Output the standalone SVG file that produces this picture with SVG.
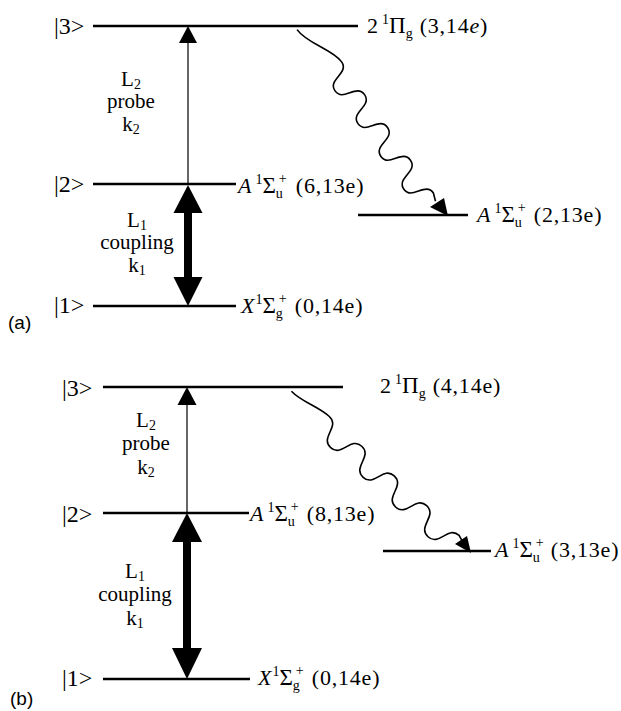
<svg xmlns="http://www.w3.org/2000/svg" width="621" height="711" viewBox="0 0 621 711">
  <style>
    .lvl { stroke: #000; stroke-width: 2.4; fill: none; }
    .thin { stroke: #000; stroke-width: 1.2; fill: none; }
    .shaft { stroke: #000; stroke-width: 8; fill: none; }
    .wave { stroke: #000; stroke-width: 1.6; fill: none; stroke-linejoin: round; }
    .head { fill: #000; stroke: none; }
    text { font-family: "Liberation Serif", "Times New Roman", serif; fill: #000; }
    .ket { font-size: 24px; }
    .lab { font-size: 22px; }
    .big { font-size: 23px; }
    .par { letter-spacing: 0.8px; }
    .mid { font-size: 21px; text-anchor: middle; }
    .sm { font-size: 14px; letter-spacing: 0; }
    .tag { font-family: "Liberation Sans", Arial, sans-serif; font-size: 19px; }
  </style>

  <!-- ===== Panel (a) ===== -->
  <g id="a-level3">
    <line class="lvl" x1="93" y1="26" x2="358" y2="26"/>
    <text class="ket" x="54" y="34">|3&gt;</text>
    <text class="lab" x="367" y="33">2<tspan class="sm" dx="4" dy="-9">1</tspan><tspan class="big" dy="9">Π</tspan><tspan class="sm" dy="5">g</tspan><tspan class="par" dx="7" dy="-5">(3,14<tspan font-style="italic">e</tspan>)</tspan></text>
  </g>
  <g id="a-level2">
    <line class="lvl" x1="93" y1="184" x2="236" y2="184"/>
    <text class="ket" x="54" y="192">|2&gt;</text>
    <text class="lab" x="238" y="193"><tspan font-style="italic">A</tspan><tspan class="sm" dx="4" dy="-9">1</tspan><tspan class="big" dy="9">Σ</tspan><tspan class="sm" dy="5">u</tspan><tspan class="sm" dx="-4" dy="-15">+</tspan><tspan class="par" dx="9" dy="10">(6,13e)</tspan></text>
  </g>
  <g id="a-level1">
    <line class="lvl" x1="93" y1="306" x2="236" y2="306"/>
    <text class="ket" x="54" y="313">|1&gt;</text>
    <text class="lab" x="241" y="313"><tspan font-style="italic">X</tspan><tspan class="sm" dx="1" dy="-9">1</tspan><tspan class="big" dy="9">Σ</tspan><tspan class="sm" dy="5">g</tspan><tspan class="sm" dx="-4" dy="-15">+</tspan><tspan class="par" dx="8" dy="10">(0,14e)</tspan></text>
  </g>
  <g id="a-final">
    <line class="lvl" x1="358" y1="215" x2="468" y2="215" stroke-width="2"/>
    <text class="lab" x="477" y="222"><tspan font-style="italic">A</tspan><tspan class="sm" dx="4" dy="-9">1</tspan><tspan class="big" dy="9">Σ</tspan><tspan class="sm" dy="5">u</tspan><tspan class="sm" dx="-4" dy="-15">+</tspan><tspan class="par" dx="8" dy="10">(2,13e)</tspan></text>
  </g>
  <g id="a-labels">
    <text class="mid" x="131" y="86">L<tspan class="sm" dy="3">2</tspan><tspan x="131" dy="19">probe</tspan><tspan x="131" dy="23">k</tspan><tspan class="sm" dy="3">2</tspan></text>
    <text class="mid" x="137" y="227">L<tspan class="sm" dy="3">1</tspan><tspan x="137" dy="19">coupling</tspan><tspan x="137" dy="23">k</tspan><tspan class="sm" dy="3">1</tspan></text>
    <text class="tag" x="8" y="329">(a)</text>
  </g>

  <!-- ===== Panel (b) ===== -->
  <g id="b-level3">
    <line class="lvl" x1="103" y1="387" x2="343" y2="387"/>
    <text class="ket" x="62" y="396">|3&gt;</text>
    <text class="lab" x="380" y="393">2<tspan class="sm" dx="4" dy="-9">1</tspan><tspan class="big" dy="9">Π</tspan><tspan class="sm" dy="5">g</tspan><tspan class="par" dx="7" dy="-5">(4,14e)</tspan></text>
  </g>
  <g id="b-level2">
    <line class="lvl" x1="103" y1="513" x2="249" y2="513"/>
    <text class="ket" x="62" y="522">|2&gt;</text>
    <text class="lab" x="250" y="521"><tspan font-style="italic">A</tspan><tspan class="sm" dx="4" dy="-9">1</tspan><tspan class="big" dy="9">Σ</tspan><tspan class="sm" dy="5">u</tspan><tspan class="sm" dx="-4" dy="-15">+</tspan><tspan class="par" dx="8" dy="10">(8,13e)</tspan></text>
  </g>
  <g id="b-level1">
    <line class="lvl" x1="103" y1="679" x2="250" y2="679"/>
    <text class="ket" x="62" y="686">|1&gt;</text>
    <text class="lab" x="258" y="685"><tspan font-style="italic">X</tspan><tspan class="sm" dx="1" dy="-9">1</tspan><tspan class="big" dy="9">Σ</tspan><tspan class="sm" dy="5">g</tspan><tspan class="sm" dx="-4" dy="-15">+</tspan><tspan class="par" dx="8" dy="10">(0,14e)</tspan></text>
  </g>
  <g id="b-final">
    <line class="lvl" x1="383" y1="551" x2="491" y2="551" stroke-width="2"/>
    <text class="lab" x="495" y="557"><tspan font-style="italic">A</tspan><tspan class="sm" dx="4" dy="-9">1</tspan><tspan class="big" dy="9">Σ</tspan><tspan class="sm" dy="5">u</tspan><tspan class="sm" dx="-4" dy="-15">+</tspan><tspan class="par" dx="7" dy="10">(3,13e)</tspan></text>
  </g>
  <g id="b-labels">
    <text class="mid" x="146" y="427">L<tspan class="sm" dy="3">2</tspan><tspan x="146" dy="20">probe</tspan><tspan x="146" dy="24">k</tspan><tspan class="sm" dy="3">2</tspan></text>
    <text class="mid" x="135" y="578">L<tspan class="sm" dy="3">1</tspan><tspan x="135" dy="20">coupling</tspan><tspan x="135" dy="24">k</tspan><tspan class="sm" dy="3">1</tspan></text>
    <text class="tag" x="10" y="705">(b)</text>
  </g>

  <!-- ===== Transitions ===== -->
  <g id="connectors">
    <!-- (a) probe L2: |2> -> |3> -->
    <line class="thin" x1="188" y1="184" x2="188" y2="40"/>
    <polygon class="head" points="188,26 179,43 197,43"/>
    <!-- (a) coupling L1: |1> <-> |2> -->
    <line class="shaft" x1="188" y1="210" x2="188" y2="280"/>
    <polygon class="head" points="188,185 173.5,213 202.5,213"/>
    <polygon class="head" points="188,306 173.5,277 202.5,277"/>
    <!-- (a) emission |3> -> lower A state (wavy, drawn along a rotated axis) -->
    <path class="wave" transform="translate(332.6,68.2) rotate(55)" d="M-52,7 C-35,7 -15,-11 0,-11 c14,0 6,22 20,22 c14,0 6,-22 20,-22 c14,0 6,22 20,22 c14,0 6,-22 20,-22 c14,0 6,22 20,22 c14,0 6,-22 20,-22 c14,0 6,22 20,22 c14,0 6,-22 20,-22 l8,3"/>
    <polygon class="head" points="430,207 444,198 448,216"/>

    <!-- (b) probe L2: |2> -> |3> -->
    <line class="thin" x1="187" y1="513" x2="187" y2="401"/>
    <polygon class="head" points="187,387 177.5,405 196.5,405"/>
    <!-- (b) coupling L1: |1> <-> |2> -->
    <line class="shaft" x1="187" y1="540" x2="187" y2="650"/>
    <polygon class="head" points="187,513 172,542 202,542"/>
    <polygon class="head" points="187,679 172,648 202,648"/>
    <!-- (b) emission |3> -> lower A state -->
    <path class="wave" transform="translate(321.9,424.6) rotate(42.5)" d="M-45,-4 C-30,-3 -15,-11 0,-11 c15,0 7,22 22,22 c15,0 7,-22 22,-22 c15,0 7,22 22,22 c15,0 7,-22 22,-22 c15,0 7,22 22,22 c15,0 7,-22 22,-22 c15,0 7,22 22,22 c15,0 7,-22 22,-22 l6,2"/>
    <polygon class="head" points="455,544 467,536 471,553"/>
  </g>
</svg>
